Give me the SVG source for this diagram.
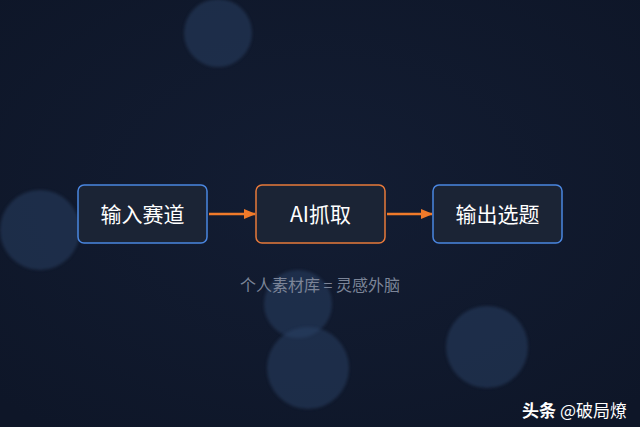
<svg xmlns="http://www.w3.org/2000/svg" width="640" height="427" viewBox="0 0 640 427">
<defs>
<radialGradient id="bg" cx="50%" cy="45%" r="70%">
<stop offset="0" stop-color="#131d33"/>
<stop offset="1" stop-color="#0e1628"/>
</radialGradient>
<marker id="arr" viewBox="0 0 10 10" refX="9" refY="5" markerWidth="5" markerHeight="5" orient="auto">
<path d="M0,1 L10,5 L0,9 z" fill="#f07a2a"/>
</marker>
<filter id="blur" x="-20%" y="-20%" width="140%" height="140%"><feGaussianBlur stdDeviation="1.5"/></filter>
</defs>
<style>
.box{fill:#1b2435;stroke-width:1.5}
.blue{stroke:#4a86e0}
.orange{stroke:#e8793a}
.lbl{font-family:"Noto Sans CJK SC","Liberation Sans",sans-serif;font-size:21px;fill:#ffffff;text-anchor:middle}
.bokeh{fill:#2a4266;opacity:0.5;filter:url(#blur)}
.conn{stroke:#f07a2a;stroke-width:2.5;fill:none}
</style>
<rect width="640" height="427" fill="url(#bg)"/>
<g id="bokeh">
<circle class="bokeh" cx="218" cy="33" r="34"/>
<circle class="bokeh" cx="40" cy="230" r="40"/>
<circle class="bokeh" cx="298" cy="304" r="34" opacity="0.35"/>
<circle class="bokeh" cx="308" cy="368" r="41"/>
<circle class="bokeh" cx="487" cy="347" r="41"/>
</g>
<g id="connectors">
<line class="conn" x1="209" y1="214" x2="255" y2="214" marker-end="url(#arr)"/>
<line class="conn" x1="387" y1="214" x2="432" y2="214" marker-end="url(#arr)"/>
</g>
<g id="node-input">
<rect class="box blue" x="78" y="185" width="129" height="58" rx="6"/>
<text class="lbl" x="142.5" y="222">输入赛道</text>
</g>
<g id="node-ai">
<rect class="box orange" x="256" y="185" width="129" height="58" rx="6"/>
<text class="lbl" x="320.5" y="222">AI抓取</text>
</g>
<g id="node-output">
<rect class="box blue" x="433" y="185" width="129" height="58" rx="6"/>
<text class="lbl" x="497.5" y="222">输出选题</text>
</g>
<text x="320" y="291" font-family="'Noto Sans CJK SC','Liberation Sans',sans-serif" font-size="16" fill="#7c8598" text-anchor="middle" xml:space="preserve">个人素材库 = 灵感外脑</text>
<text x="627" y="417" font-family="'Noto Sans CJK SC','Liberation Sans',sans-serif" font-size="17" fill="#ffffff" text-anchor="end"><tspan font-weight="bold">头条</tspan> @破局燎</text>
</svg>
